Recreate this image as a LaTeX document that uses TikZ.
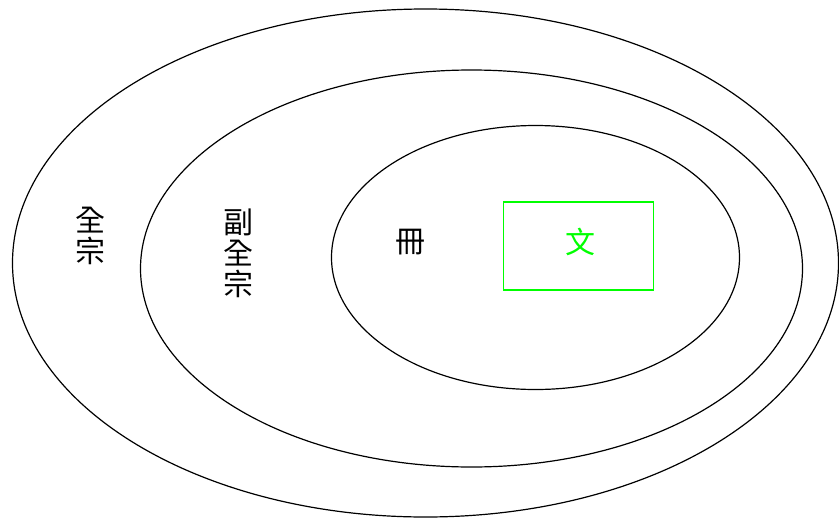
\documentclass[tikz,border=0pt]{standalone}
\usepackage{fontspec}
\newfontfamily\cjk{Noto Sans CJK TC}
\usetikzlibrary{shapes.geometric}

\begin{document}
\begin{tikzpicture}[x=1pt,y=-1pt,
    level/.style={draw,ellipse,line width=1.2pt,inner sep=0pt},
    label/.style={font=\cjk\fontsize{30}{31}\selectfont,align=center,inner sep=0pt}]
      \useasboundingbox (0,0) rectangle (839,520);
      \node[level,minimum width=826pt,minimum height=508pt] (fonds) at (425.5,263) {};
      \node[level,minimum width=662pt,minimum height=397pt] (subfonds) at (471.5,268.5) {};
      \node[level,minimum width=408pt,minimum height=264pt] (volume) at (535.5,257.5) {};
      \node[draw=green,line width=1.2pt,minimum width=150pt,minimum height=88pt] (item) at (578.5,246) {};
      \node[label] (quanzong) at (90,236) {全\\宗};
      \node[label] (fuquanzong) at (238,253) {副\\全\\宗};
      \node[label] (ce) at (410,242) {冊};
      \node[label,text=green] (wen) at (580,242) {文};
    \end{tikzpicture}
\end{document}
